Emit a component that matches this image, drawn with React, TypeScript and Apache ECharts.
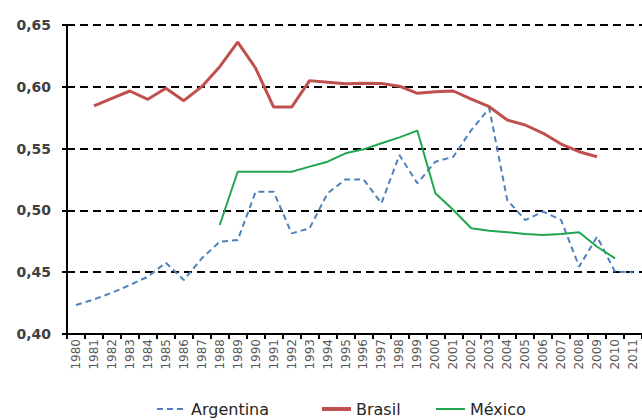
import React, { useEffect, useRef } from "react";
import * as echarts from "echarts";

const years = [
  "1980", "1981", "1982", "1983", "1984", "1985", "1986", "1987", "1988", "1989",
  "1990", "1991", "1992", "1993", "1994", "1995", "1996", "1997", "1998", "1999",
  "2000", "2001", "2002", "2003", "2004", "2005", "2006", "2007", "2008", "2009",
  "2010", "2011",
];

const argentina = [
  0.4235, 0.428, 0.4334, 0.4396, 0.4464, 0.4577, 0.4437, 0.4612, 0.4747, 0.476,
  0.5151, 0.5151, 0.4814, 0.4855, 0.5138, 0.5251, 0.5251, 0.5057, 0.5448, 0.5219,
  0.5394, 0.5434, 0.565, 0.5826, 0.5084, 0.4922, 0.499, 0.4922, 0.4545, 0.4787,
  0.4504, 0.4499,
];

const brasil = [
  null, 0.5845, 0.5907, 0.5966, 0.5899, 0.5988, 0.5888, 0.6001, 0.6163, 0.6362,
  0.615, 0.5836, 0.5836, 0.605, 0.6036, 0.6025, 0.6028, 0.6026, 0.6005, 0.5947,
  0.596, 0.5966, 0.59, 0.5839, 0.5731, 0.5691, 0.5624, 0.5537, 0.5475, 0.5434,
  null, null,
];

const mexico = [
  null, null, null, null, null, null, null, null, 0.4882, 0.5313,
  0.5313, 0.5313, 0.5313, 0.5354, 0.5394, 0.5462, 0.5494, 0.5543, 0.5591, 0.5645,
  0.5138, 0.5003, 0.4855, 0.4836, 0.4823, 0.4809, 0.4801, 0.4809, 0.4823, 0.4706,
  0.4612, null,
];

const yTicks = ["0,40", "0,45", "0,50", "0,55", "0,60", "0,65"];

const BLUE = "#4F81BD";
const RED = "#C0504D";
const GREEN = "#1FA64F";
const FONT = "DejaVu Sans, Verdana, sans-serif";

export default function App() {
  const ref = useRef<HTMLDivElement>(null);

  useEffect(() => {
    document.body.style.margin = "0";
    const chart = echarts.init(ref.current!, undefined, { renderer: "svg" });
    const legendText = {
      fontFamily: FONT,
      fontSize: 16,
      color: "#262626",
    };
    const legendBase = {
      top: 396,
      itemWidth: 29,
      itemHeight: 20,
      itemGap: 0,
      textStyle: legendText,
      itemStyle: { opacity: 0 },
    };
    chart.setOption({
      animation: false,
      backgroundColor: "#ffffff",
      grid: { left: 67, right: -4, top: 25, bottom: 86, containLabel: false },
      xAxis: {
        type: "category",
        data: years,
        boundaryGap: true,
        axisLine: { show: true, lineStyle: { color: "#000", width: 2 } },
        axisTick: { show: true, length: 5, lineStyle: { color: "#000", width: 2 } },
        axisLabel: {
          rotate: 90,
          interval: 0,
          margin: 5,
          fontSize: 12,
          fontFamily: FONT,
          color: "#595959",
        },
        splitLine: { show: false },
      },
      yAxis: {
        type: "value",
        min: 0.4,
        max: 0.65,
        interval: 0.05,
        axisLine: { show: true, lineStyle: { color: "#000", width: 2 } },
        axisTick: { show: true, length: 5, lineStyle: { color: "#000", width: 2 } },
        axisLabel: {
          margin: 16,
          fontSize: 14,
          fontWeight: "bold",
          fontFamily: FONT,
          color: "#404040",
          formatter: (v: number) => yTicks[Math.round((v - 0.4) / 0.05)] ?? "",
        },
        splitLine: {
          show: true,
          lineStyle: { color: "#000", width: 2, type: [8, 5] },
        },
      },
      legend: [
        { ...legendBase, data: ["Argentina"], left: 151, lineStyle: { width: 2 } },
        { ...legendBase, data: ["Brasil"], left: 315, lineStyle: { width: 4 } },
        { ...legendBase, data: ["México"], left: 430, lineStyle: { width: 2 } },
      ],
      series: [
        {
          name: "Argentina",
          type: "line",
          data: argentina,
          symbol: "none",
          color: BLUE,
          lineStyle: { color: BLUE, width: 2, type: [6, 4] },
          z: 3,
        },
        {
          name: "Brasil",
          type: "line",
          data: brasil,
          symbol: "none",
          color: RED,
          lineStyle: { color: RED, width: 3 },
          z: 4,
        },
        {
          name: "México",
          type: "line",
          data: mexico,
          symbol: "none",
          color: GREEN,
          lineStyle: { color: GREEN, width: 2 },
          z: 5,
        },
      ],
    });
    return () => chart.dispose();
  }, []);

  return <div ref={ref} style={{ width: 642, height: 420 }} />;
}
